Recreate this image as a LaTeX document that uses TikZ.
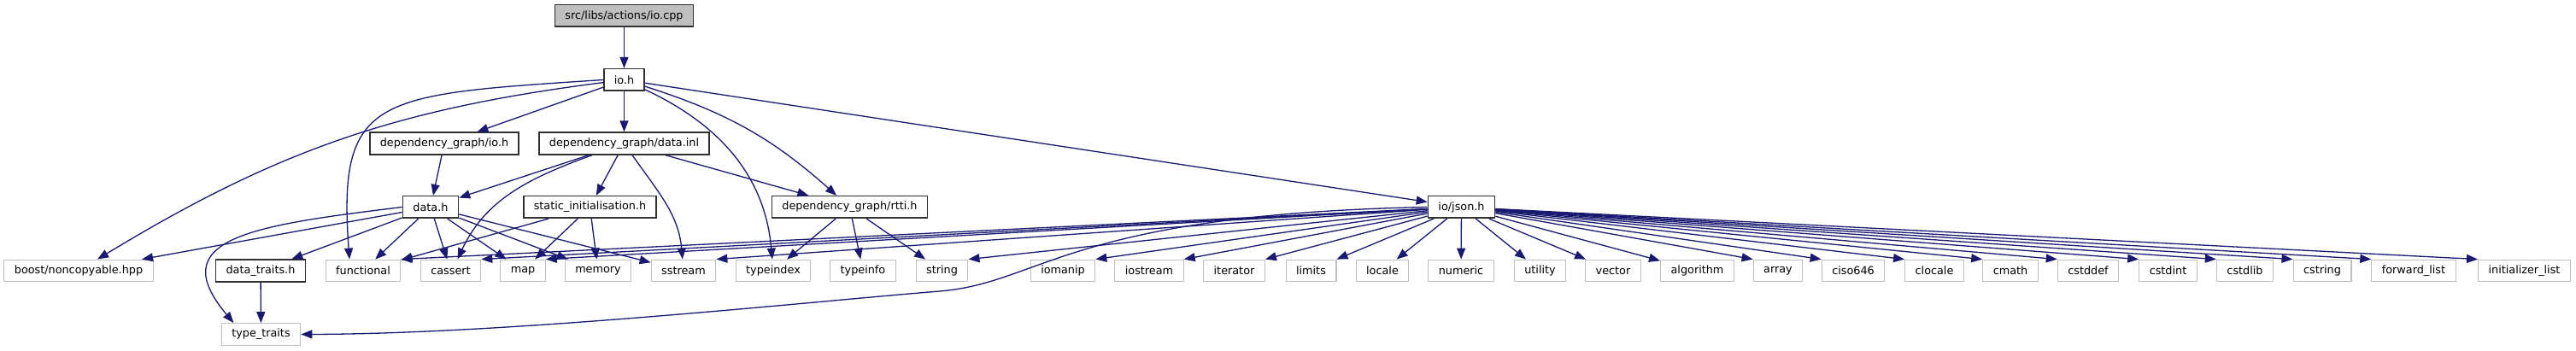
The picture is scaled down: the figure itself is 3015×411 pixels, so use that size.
\documentclass[tikz,border=0pt]{standalone}
\usepackage{fontspec}
\usepackage{xcolor}
\usetikzlibrary{arrows.meta}
\setmainfont{DejaVu Sans}
\definecolor{Navy}{HTML}{191970}
\definecolor{Frame}{HTML}{303030}
\definecolor{Ghost}{HTML}{BFBFBF}

\begin{document}
\begin{tikzpicture}[x=0.5pt, y=0.5pt,
    box/.style={line width=0.6pt, minimum height=12.8pt, inner xsep=6pt, inner ysep=0pt,
      font=\fontsize{6.4}{7.7}\selectfont},
    file/.style={box, draw=Frame, line width=0.8pt, fill=white},
    sysfile/.style={box, draw=Ghost, fill=white},
    rootfile/.style={box, draw=Frame, line width=0.8pt, fill=Ghost},
    dep/.style={Navy, line width=0.65pt, -{Triangle[length=6.5pt,width=5pt]}}]
  \useasboundingbox (0,0) rectangle (3015,411);
  % project files
  \node[rootfile] (iocpp) at (730.5,392.5) {src/libs/actions/io.cpp};
  \node[file] (ioh) at (730.5,317.5) {io.h};
  \node[file] (dgio) at (520,243) {dependency\_graph/io.h};
  \node[file] (dginl) at (730.5,243) {dependency\_graph/data.inl};
  \node[file] (datah) at (504,168.5) {data.h};
  \node[file] (statinit) at (690.5,168.5) {static\_initialisation.h};
  \node[file] (rtti) at (994.5,168.5) {dependency\_graph/rtti.h};
  \node[file] (json) at (1710.5,168.5) {io/json.h};
  \node[file] (traits) at (305,94) {data\_traits.h};
  % system headers
  \node[sysfile] (noncopy) at (92,94) {boost/noncopyable.hpp};
  \foreach \id/\x in {functional/425, cassert/527.5, map/612, memory/700, sstream/800,
      typeindex/905, typeinfo/1010, string/1102.5, iomanip/1244, iostream/1345,
      iterator/1444.5, limits/1534.5, locale/1618, numeric/1710, utility/1802.5,
      vector/1888, algorithm/1986.5, array/2081, ciso646/2169, clocale/2264,
      cmath/2353, cstddef/2444, cstdint/2537.5, cstdlib/2627.5, cstring/2718}
    \node[sysfile] (\id) at (\x,94) {\id};
  \node[sysfile] (fwdlist) at (2825,94) {forward\_list};
  \node[sysfile] (initlist) at (2954.5,94) {initializer\_list};
  \node[sysfile] (typetraits) at (305.5,19.5) {type\_traits};

  % io.cpp and io.h
  \draw[dep] (iocpp) -- (ioh);
  \draw[dep] (ioh) to[bend right=12] (noncopy);
  \draw[dep] (ioh.west) .. controls (440,300) and (395,300) .. ([xshift=-8pt]functional.north);
  \draw[dep] (ioh) -- (dgio);
  \draw[dep] (ioh) -- (dginl);
  \draw[dep] (ioh) to[out=-25,in=95] (typeindex);
  \draw[dep] (ioh) to[bend left=12] (rtti);
  \draw[dep] (ioh) -- (json);
  % dependency_graph
  \draw[dep] (dgio) -- (datah);
  \draw[dep] (dginl) -- (datah);
  \draw[dep] (dginl) to[out=200,in=65] ([xshift=4pt]cassert.north);
  \draw[dep] (dginl) -- (statinit);
  \draw[dep] (dginl) to[out=-55,in=95] (sstream);
  \draw[dep] (dginl) -- (rtti);
  \foreach \dst in {noncopy,traits,functional,cassert,map,memory,sstream}
    \draw[dep] (datah) -- (\dst);
  \draw[dep] (datah.west) .. controls (295,147) and (190,132) .. ([xshift=-16pt]typetraits.north);
  \foreach \dst in {functional,map,memory}
    \draw[dep] (statinit) -- (\dst);
  \foreach \dst in {typeindex,typeinfo,string}
    \draw[dep] (rtti) -- (\dst);
  \draw[dep] (traits) -- (typetraits);
  % io/json.h
  \foreach \dst in {functional,cassert,map,sstream,string,iomanip,iostream,iterator,limits}
    \draw[dep] (json) -- (\dst.north east);
  \draw[dep] (json.west) .. controls (1250,160) and (1220,80) .. (1100,70)
    .. controls (950,58) and (600,20) .. (typetraits.east);
  \foreach \dst in {locale,numeric,utility,vector,algorithm}
    \draw[dep] (json) -- (\dst);
  \foreach \dst in {array,ciso646,clocale,cmath,cstddef,cstdint,cstdlib,cstring,fwdlist,initlist}
    \draw[dep] (json) -- (\dst.north west);
\end{tikzpicture}
\end{document}
